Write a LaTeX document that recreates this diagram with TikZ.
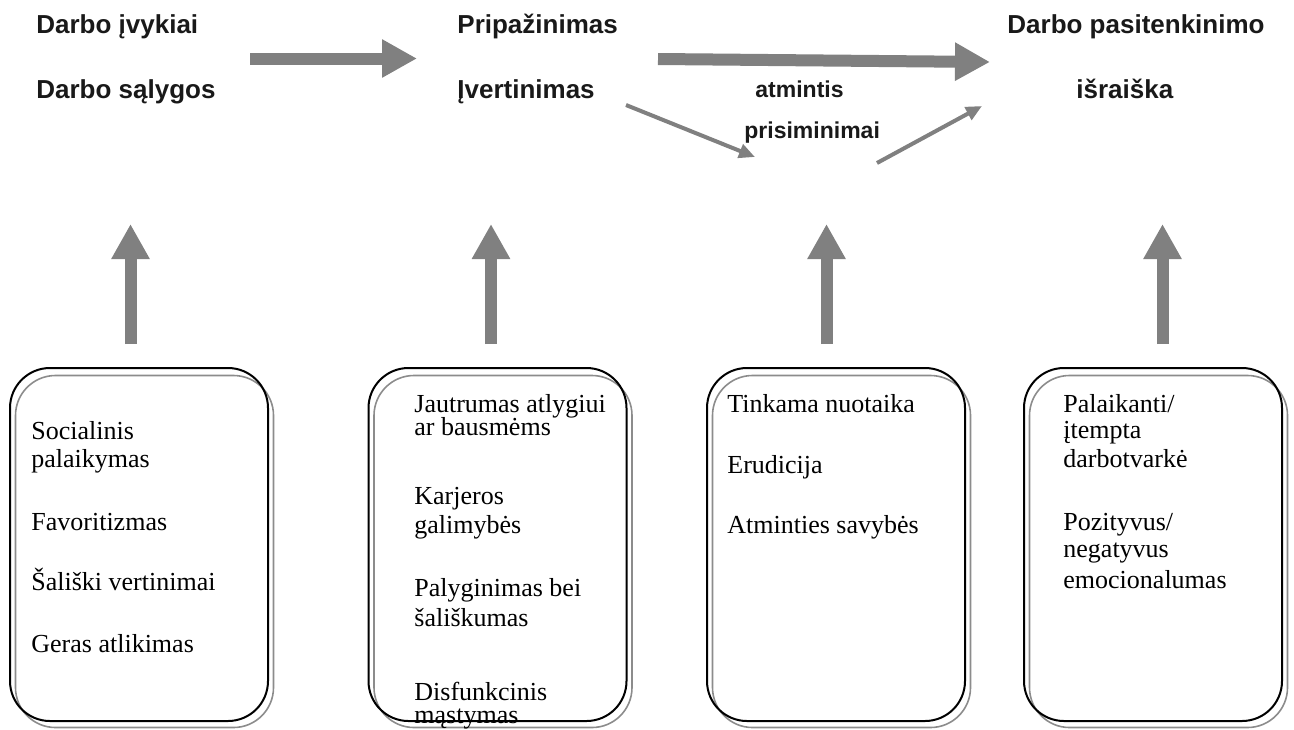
\documentclass[tikz,border=0pt]{standalone}
\usepackage{fontspec}
\setmainfont{Liberation Serif}
\setsansfont{Liberation Sans}
\usetikzlibrary{arrows.meta}

\definecolor{arrowgray}{RGB}{128,128,128}
\definecolor{shadegray}{RGB}{140,140,140}

\tikzset{
  head/.style={font=\sffamily\bfseries\fontsize{13}{15}\selectfont, text=black!90, anchor=base west, inner sep=0pt},
  mid/.style={font=\sffamily\bfseries\fontsize{11.5}{13}\selectfont, text=black!90, anchor=base west, inner sep=0pt},
  item/.style={font=\fontsize{13}{15}\selectfont, anchor=base west, inner sep=0pt},
  bigarrow/.style={draw=arrowgray, line width=6pt, -{Triangle[length=17.5pt,width=18pt]}},
  thinarrow/.style={draw=arrowgray, line width=2pt, -{Triangle[length=8pt,width=7pt]}},
  outerbox/.style={draw=black, line width=1pt, rounded corners=20pt, minimum width=129pt, minimum height=176.5pt},
  shadowbox/.style={draw=shadegray, line width=0.8pt, rounded corners=20pt, minimum width=129pt, minimum height=176pt},
}

\begin{document}
\begin{tikzpicture}[x=0.5pt, y=-0.5pt]
    \useasboundingbox (0,0) rectangle (1294,729);

    % Top labels
    \node [head] (events) at (36,33) {Darbo įvykiai};
    \node [head] (conditions) at (36,98) {Darbo sąlygos};
    \node [head] (recognition) at (457,33) {Pripažinimas};
    \node [head] (assessment) at (457,98) {Įvertinimas};
    \node [head] (satisfaction) at (1007,33) {Darbo pasitenkinimo};
    \node [head] (expression) at (1076,98) {išraiška};
    \node [mid] (memory) at (755,97) {atmintis};
    \node [mid] (recall) at (744,138) {prisiminimai};

    % Arrows between labels
    \coordinate (e1) at (250,58.5);
    \coordinate (e2) at (417,58.5);
    \coordinate (r1) at (658,59);
    \coordinate (r2) at (990,62);
    \coordinate (m1) at (626,105);
    \coordinate (m2) at (755,157);
    \coordinate (m3) at (877,163);
    \coordinate (m4) at (982,106);
    \draw [bigarrow] (e1) -- (e2);
    \draw [bigarrow] (r1) -- (r2);
    \draw [thinarrow] (m1) -- (m2);
    \draw [thinarrow] (m3) -- (m4);

    % Boxes and upward arrows
    \foreach \cx [count=\i] in {139,497.5,836,1153} {
        \node [shadowbox] (g\i) at (\cx+5.5,551.5) {};
        \node [outerbox] (f\i) at (\cx,544.5) {};
    }
    \foreach \ax [count=\i] in {130.5,491,826.5,1162.5} {
        \coordinate (v\i) at (\ax,344);
        \coordinate (w\i) at (\ax,224);
        \draw [bigarrow] (v\i) -- (w\i);
    }

    % Box texts
    \foreach \y/\t [count=\i] in {439/Socialinis, 467/palaikymas, 530/Favoritizmas,
        590/Šališki vertinimai, 652/Geras atlikimas}
        \node [item] (a\i) at (31,\y) {\t};
    \foreach \y/\t [count=\i] in {412/Jautrumas atlygiui, 435/ar bausmėms, 504/Karjeros,
        533/galimybės, 596/Palyginimas bei, 626/šališkumas, 700/Disfunkcinis, 723/mąstymas}
        \node [item] (b\i) at (414,\y) {\t};
    \foreach \y/\t [count=\i] in {412/Tinkama nuotaika, 473/Erudicija, 533/Atminties savybės}
        \node [item] (c\i) at (727,\y) {\t};
    \foreach \y/\t [count=\i] in {412/{Palaikanti/}, 438/įtempta, 467/darbotvarkė,
        530/{Pozityvus/}, 557/negatyvus, 588/emocionalumas}
        \node [item] (d\i) at (1063,\y) {\t};

\end{tikzpicture}
\end{document}
